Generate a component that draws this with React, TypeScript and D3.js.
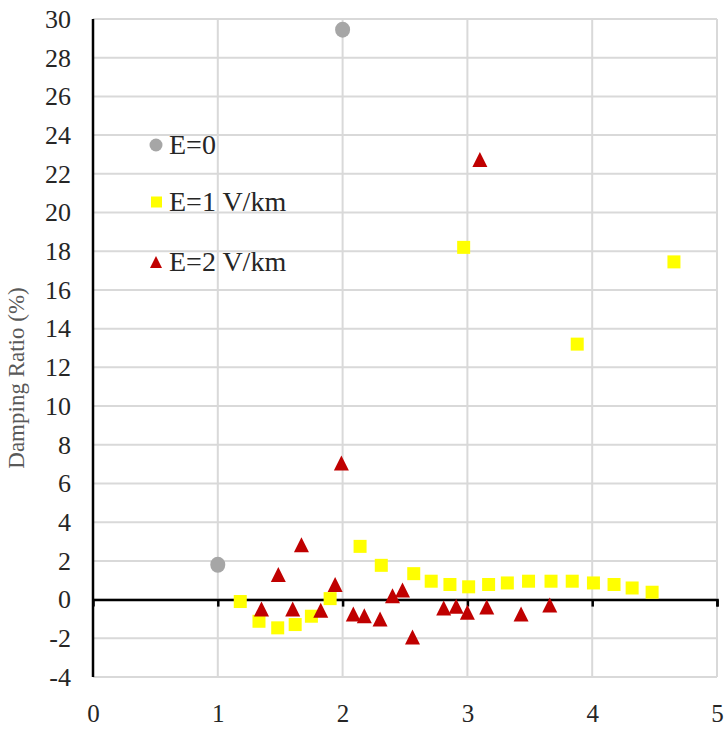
import React, { useEffect, useRef } from 'react';
import * as d3 from 'd3';

// Damping ratio (%) vs x
const e0Points: [number, number][] = [
  [1.0, 1.8], [2.0, 29.45],
];

const e1Points: [number, number][] = [
  [1.18, -0.1], [1.33, -1.12], [1.48, -1.46], [1.62, -1.29], [1.75, -0.86],
  [1.9, 0.05], [2.14, 2.75], [2.31, 1.77], [2.57, 1.34], [2.71, 0.95],
  [2.86, 0.78], [2.97, 18.2], [3.01, 0.66], [3.17, 0.78], [3.32, 0.86],
  [3.49, 0.95], [3.67, 0.95], [3.84, 0.95], [3.88, 13.2], [4.01, 0.86],
  [4.175, 0.78], [4.32, 0.6], [4.48, 0.38], [4.655, 17.45],
];

const e2Points: [number, number][] = [
  [1.35, -0.48], [1.485, 1.3], [1.6, -0.48], [1.67, 2.84], [1.825, -0.55],
  [1.94, 0.78], [1.99, 7.06], [2.086, -0.74], [2.174, -0.83], [2.3, -1.0],
  [2.4, 0.2], [2.48, 0.5], [2.56, -1.93], [2.81, -0.43], [2.91, -0.34],
  [3.0, -0.65], [3.1, 22.74], [3.155, -0.38], [3.43, -0.74], [3.66, -0.28],
];

const xTicks = [0, 1, 2, 3, 4, 5];
const yTicks = [-4, -2, 0, 2, 4, 6, 8, 10, 12, 14, 16, 18, 20, 22, 24, 26, 28, 30];
const legendLabels = ['E=0', 'E=1 V/km', 'E=2 V/km'];

const FONT = '"Liberation Serif", "Times New Roman", serif';

const App = () => {
  const svgRef = useRef<SVGSVGElement | null>(null);
  const width = 727;
  const height = 730;

  useEffect(() => {
    document.body.style.margin = '0';
    const svg = d3.select(svgRef.current);
    svg.selectAll('*').remove();

    const x = d3.scaleLinear().domain([0, 5]).range([93, 717]);
    const y = d3.scaleLinear().domain([-4, 30]).range([677, 19]);

    // Gridlines
    const grid = svg.append('g').attr('stroke', '#d9d9d9').attr('stroke-width', 2);
    grid.selectAll('line.h')
      .data(yTicks)
      .enter()
      .append('line')
      .attr('x1', x(0)).attr('x2', x(5))
      .attr('y1', d => y(d)).attr('y2', d => y(d));
    grid.selectAll('line.v')
      .data(xTicks.slice(1))
      .enter()
      .append('line')
      .attr('x1', d => x(d)).attr('x2', d => x(d))
      .attr('y1', y(30)).attr('y2', y(-4));

    // Y axis labels
    const yAxis = svg.append('g')
      .attr('transform', `translate(${x(0)},0)`)
      .call(d3.axisLeft(y).tickValues(yTicks).tickSize(0).tickPadding(22).tickFormat(d => String(d)));
    yAxis.select('.domain').remove();
    yAxis.selectAll('text')
      .style('font-family', FONT)
      .style('font-size', '26px')
      .attr('fill', '#262626');

    // X axis labels (below the plot)
    const xAxis = svg.append('g')
      .attr('transform', `translate(0,${y(-4)})`)
      .call(d3.axisBottom(x).tickValues(xTicks).tickSize(0).tickPadding(27).tickFormat(d => String(d)));
    xAxis.select('.domain').remove();
    xAxis.selectAll('text')
      .style('font-family', FONT)
      .style('font-size', '25px')
      .attr('fill', '#262626');

    // Zero line with tick marks
    const zeroAxis = svg.append('g')
      .attr('transform', `translate(0,${y(0)})`)
      .call(d3.axisBottom(x).tickValues(xTicks.slice(1)).tickSize(7).tickSizeOuter(7).tickFormat(() => ''));
    zeroAxis.select('.domain').attr('stroke', '#000').attr('stroke-width', 2.5);
    zeroAxis.selectAll('line').attr('stroke', '#000').attr('stroke-width', 2.5);

    // Vertical axis line
    svg.append('line')
      .attr('x1', x(0)).attr('x2', x(0))
      .attr('y1', y(30)).attr('y2', y(-4))
      .attr('stroke', '#000')
      .attr('stroke-width', 2.5);

    // Y axis title
    svg.append('text')
      .attr('transform', `translate(24,378) rotate(-90)`)
      .attr('text-anchor', 'middle')
      .style('font-family', FONT)
      .style('font-size', '23px')
      .attr('fill', '#595959')
      .text('Damping Ratio (%)');

    const triPath = (w: number) => {
      const h = w;
      return `M0,${-h / 2}L${w / 2},${h / 2}L${-w / 2},${h / 2}Z`;
    };

    // E=0
    svg.append('g')
      .selectAll('ellipse')
      .data(e0Points)
      .enter()
      .append('ellipse')
      .attr('cx', d => x(d[0]))
      .attr('cy', d => y(d[1]))
      .attr('rx', 7.5)
      .attr('ry', 8)
      .attr('fill', '#a6a6a6');

    // E=1
    const sq = 13;
    svg.append('g')
      .selectAll('rect')
      .data(e1Points)
      .enter()
      .append('rect')
      .attr('x', d => x(d[0]) - sq / 2)
      .attr('y', d => y(d[1]) - sq / 2)
      .attr('width', sq)
      .attr('height', sq)
      .attr('fill', '#ffff00');

    // E=2
    svg.append('g')
      .selectAll('path')
      .data(e2Points)
      .enter()
      .append('path')
      .attr('transform', d => `translate(${x(d[0])},${y(d[1])})`)
      .attr('d', triPath(15))
      .attr('fill', '#c00000');

    // Legend
    const legendY = [145, 202, 262];
    const lg = svg.append('g');
    lg.append('circle').attr('cx', 156).attr('cy', legendY[0]).attr('r', 6.5).attr('fill', '#a6a6a6');
    lg.append('rect').attr('x', 151).attr('y', legendY[1] - 5.5).attr('width', 11).attr('height', 11).attr('fill', '#ffff00');
    lg.append('path').attr('transform', `translate(156,${legendY[2]})`).attr('d', triPath(12)).attr('fill', '#c00000');
    lg.selectAll('text')
      .data(legendLabels)
      .enter()
      .append('text')
      .attr('x', 169)
      .attr('y', (d, i) => legendY[i] + 9)
      .style('font-family', FONT)
      .style('font-size', '28px')
      .attr('fill', '#262626')
      .text(d => d);
  }, []);

  return (
    <svg ref={svgRef} width={width} height={height} style={{ display: 'block', background: '#fff' }}></svg>
  );
};

export default App;
